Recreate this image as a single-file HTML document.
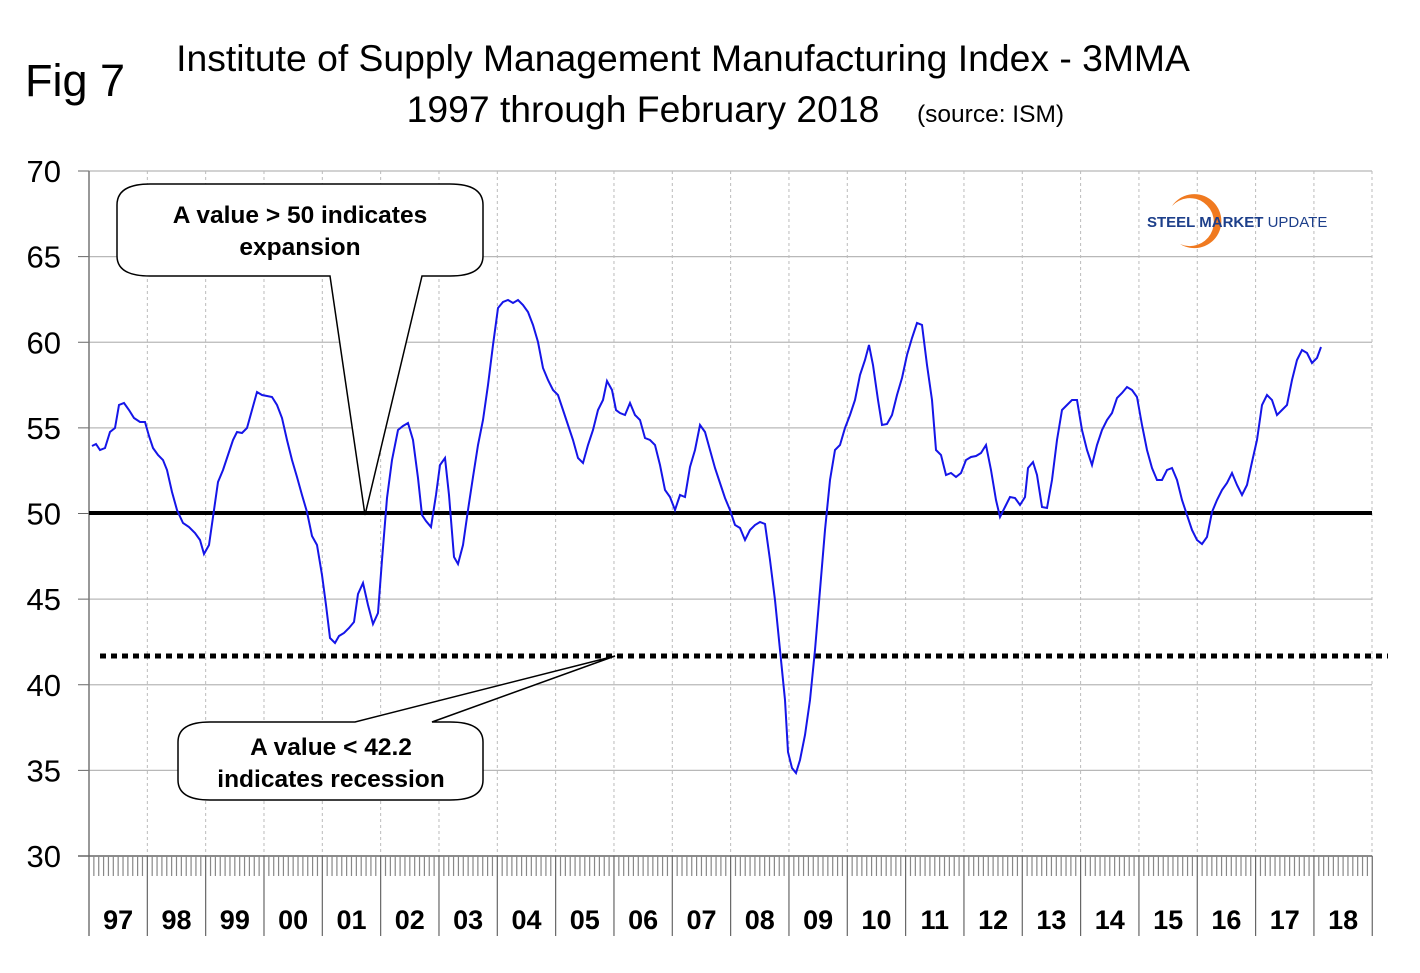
<!DOCTYPE html>
<html><head><meta charset="utf-8"><style>
body{margin:0;background:#fff;}
svg{display:block;font-family:"Liberation Sans",Arial,sans-serif;}
</style></head><body>
<svg id="s" width="1420" height="973" viewBox="0 0 1420 973" xmlns="http://www.w3.org/2000/svg">
<rect width="1420" height="973" fill="#fff"/>
<text x="25" y="96" font-size="45">Fig 7</text>
<text x="683" y="71" font-size="37.3" text-anchor="middle">Institute of Supply Management Manufacturing Index - 3MMA</text>
<text x="643" y="122" font-size="37.3" text-anchor="middle">1997 through February 2018</text>
<text x="917" y="122" font-size="24.5">(source: ISM)</text>
<g id="grid"></g>
<line x1="100" y1="656" x2="1388" y2="656" stroke="#000" stroke-width="5" stroke-dasharray="6,5"/>
<line x1="89" y1="513" x2="1372" y2="513" stroke="#000" stroke-width="4"/>
<polyline id="ln" fill="none" stroke="#1515e8" stroke-width="2"/>
<path d="M150,184 H450 Q483,184 483,205 V256 Q483,276 450,276 H422 L365,515 L330,276 H150 Q117,276 117,256 V205 Q117,184 150,184 Z" fill="#fff" stroke="#000" stroke-width="1.5"/>
<text x="300" y="223" font-size="24.5" font-weight="bold" text-anchor="middle">A value &gt; 50 indicates</text>
<text x="300" y="255" font-size="24.5" font-weight="bold" text-anchor="middle">expansion</text>
<path d="M210,722 H355 L615,656 L432,722 H450 Q483,722 483,742 V780 Q483,800 450,800 H210 Q178,800 178,780 V742 Q178,722 210,722 Z" fill="#fff" stroke="#000" stroke-width="1.5"/>
<text x="331" y="755" font-size="24.5" font-weight="bold" text-anchor="middle">A value &lt; 42.2</text>
<text x="331" y="787" font-size="24.5" font-weight="bold" text-anchor="middle">indicates recession</text>
<path d="M1172,206 A27,27 0 1 1 1180,244 A24,24 0 1 0 1172,206 Z" fill="#f07a20"/>
<text x="1147" y="227" font-size="15" font-weight="bold" fill="#1d3f8a">STEEL <tspan font-weight="bold">MARKET</tspan> <tspan font-weight="normal">UPDATE</tspan></text>
</svg>
<script>
var g=document.getElementById('grid'),h='';
var X0=89,YW=58.33;
for(var v=30;v<=70;v+=5){var y=171+(70-v)*17.125;
 if(v>30)h+='<line x1="89" y1="'+y+'" x2="1372" y2="'+y+'" stroke="#b8b8b8" stroke-width="1.2"/>';
 h+='<line x1="78" y1="'+y+'" x2="89" y2="'+y+'" stroke="#666"/>';
 h+='<text x="61" y="'+(y+11)+'" font-size="31" text-anchor="end">'+v+'</text>';}
for(var i=1;i<=22;i++){var x=X0+i*YW;if(i<22)h+='<line x1="'+x+'" y1="171" x2="'+x+'" y2="856" stroke="#bbb" stroke-dasharray="3,3"/>';}
h+='<line x1="1372" y1="171" x2="1372" y2="856" stroke="#bbb" stroke-dasharray="3,3"/>';
h+='<line x1="89" y1="171" x2="89" y2="936" stroke="#777" stroke-width="1.5"/>';
h+='<line x1="78" y1="856" x2="1372" y2="856" stroke="#666" stroke-width="1.5"/>';
for(var i=0;i<22;i++){var x=X0+i*YW;
 for(var m=1;m<12;m++){var xm=x+m*YW/12;h+='<line x1="'+xm+'" y1="856" x2="'+xm+'" y2="876" stroke="#888" stroke-width="1.2"/>';}
 h+='<line x1="'+(x+YW)+'" y1="856" x2="'+(x+YW)+'" y2="936" stroke="#666" stroke-width="1.2"/>';
 var yr=(97+i)%100;h+='<text x="'+(x+YW/2)+'" y="929" font-size="27" font-weight="bold" text-anchor="middle">'+(yr<10?'0'+yr:yr)+'</text>';}
g.innerHTML=h;
document.getElementById('ln').setAttribute('points',"92,446 96,444 100,450 105,448 110,432 115,428 119,405 124,403 129,410 134,418 140,422 145,422 149,436 153,448 158,455 163,460 167,470 172,492 177,510 183,523 189,527 195,533 200,540 204,554 209,545 213,517 218,482 223,470 228,455 233,440 237,432 242,433 247,428 252,410 257,392 262,395 267,396 272,397 277,405 282,418 287,440 292,460 297,477 302,495 307,512 312,536 317,545 322,575 326,605 330,638 335,643 339,636 344,633 349,628 354,622 358,594 363,583 368,605 373,624 378,613 382,560 387,498 392,460 398,430 403,426 408,423 413,440 418,478 422,515 426,521 431,527 436,495 440,465 445,458 449,495 454,557 458,564 463,545 468,510 473,477 478,445 483,420 488,385 493,345 498,308 503,302 508,300 513,303 518,300 523,305 528,312 533,325 538,342 543,368 548,380 553,390 558,395 563,410 568,425 573,440 578,458 583,463 588,445 593,430 598,410 603,400 607,381 612,390 616,410 620,413 625,415 630,403 635,415 640,420 645,438 650,440 655,445 660,465 665,490 670,497 675,510 680,495 685,497 690,467 695,450 700,425 705,432 710,450 715,468 720,483 725,498 730,510 735,525 740,528 745,540 750,530 755,525 760,522 765,524 770,560 775,600 780,650 785,700 788,752 792,768 796,773 800,760 805,735 810,700 815,650 820,590 825,530 830,480 835,450 840,445 845,428 850,415 855,400 860,375 865,360 869,345 873,365 878,400 882,425 887,424 892,415 897,395 902,378 907,355 912,338 917,323 922,325 927,365 932,400 936,450 941,455 946,475 951,473 956,477 961,473 966,460 971,457 976,456 981,453 986,445 991,470 996,500 1000,517 1005,507 1010,497 1015,498 1020,505 1025,497 1028,468 1033,462 1037,475 1042,507 1047,508 1052,480 1057,440 1062,410 1067,405 1072,400 1077,400 1082,430 1087,450 1092,465 1097,445 1102,430 1107,420 1112,413 1117,398 1122,393 1127,387 1132,390 1137,397 1142,425 1147,450 1152,468 1157,480 1162,480 1167,470 1172,468 1177,480 1182,500 1187,515 1192,530 1197,540 1202,544 1207,537 1212,512 1217,500 1222,490 1227,483 1232,473 1237,485 1242,495 1247,485 1252,462 1257,440 1262,405 1267,395 1272,400 1277,415 1282,410 1287,405 1292,380 1297,360 1302,350 1307,353 1312,363 1317,358 1321,347");
</script>
</body></html>
